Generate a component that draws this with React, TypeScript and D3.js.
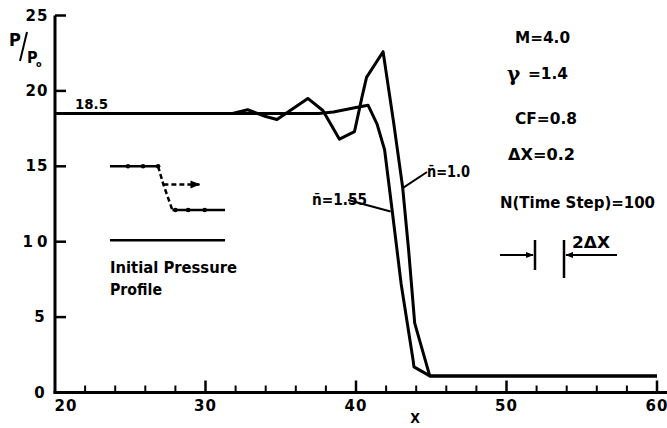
import React from "react";
import * as d3 from "d3";

// P/Po against X
const curveN10: [number, number][] = [
  [20, 18.5], [31.8, 18.5], [32.8, 18.75], [34.0, 18.3], [34.75, 18.1],
  [36.8, 19.5], [37.8, 18.7], [38.9, 16.8], [39.9, 17.3], [40.4, 19.6],
  [40.7, 20.9], [41.8, 22.6], [42.5, 17.9], [43.1, 13.6], [43.5, 9.4],
  [43.9, 4.6], [44.9, 1.1], [60, 1.1],
];
const curveN155: [number, number][] = [
  [20, 18.5], [37.5, 18.5], [38.5, 18.6], [40.0, 18.9], [40.8, 19.05],
  [41.4, 17.8], [41.9, 16.1], [42.4, 12.1], [43.0, 7.2], [43.8, 2.1],
  [43.85, 1.7], [44.9, 1.1], [60, 1.1],
];

const xTicksMajor = [20, 30, 40, 50, 60];
const xTicksMinor = d3.range(22, 60, 2).filter((v) => v % 10 !== 0);
const yTicks = [0, 5, 10, 15, 20, 25];

// initial pressure profile sketch, in data units
const profileHigh: [number, number][] = [[23.65, 15], [26.85, 15]];
const profileHighDots = [24.85, 25.85, 26.85];
const profileLow: [number, number][] = [[27.8, 12.1], [31.3, 12.1]];
const profileLowDots = [28.0, 28.85, 29.95];
const profileDash: [number, number][] = [[26.85, 15], [27.2, 13.8], [27.8, 12.1]];
const profileArrow: [number, number][] = [[27.2, 13.8], [29.6, 13.8]];
const profileBase: [number, number][] = [[23.65, 10.1], [31.3, 10.1]];

const params = [
  { text: "M=4.0", x: 515, y: 43, w: 55 },
  { text: "CF=0.8", x: 515, y: 124, w: 62 },
  { text: "ΔX=0.2", x: 508, y: 160, w: 67 },
  { text: "N(Time Step)=100", x: 500, y: 208, w: 155 },
];

const W = 667;
const H = 428;
const font = "'DejaVu Sans Condensed', 'DejaVu Sans', sans-serif";

export default function App() {
  const x = d3.scaleLinear().domain([20, 60]).range([55, 657]);
  const y = d3.scaleLinear().domain([0, 25]).range([392.5, 15.5]);
  const line = d3
    .line<[number, number]>()
    .x((d) => x(d[0]))
    .y((d) => y(d[1]));

  const stroke = "#000";

  return (
    <svg
      width={W}
      height={H}
      style={{ position: "absolute", left: 0, top: 0, background: "#fff" }}
      fontFamily={font}
      fontWeight="bold"
    >
      <defs>
        <marker id="arr" viewBox="0 0 10 10" refX="9" refY="5" markerWidth="4" markerHeight="4" orient="auto">
          <path d="M0,1 L10,5 L0,9 z" fill="#000" />
        </marker>
      </defs>

      {/* axes */}
      <line x1={x(20)} x2={x(20)} y1={y(25)} y2={y(0) + 1} stroke={stroke} strokeWidth={3} />
      <line x1={x(20) - 1.5} x2={W} y1={y(0)} y2={y(0)} stroke={stroke} strokeWidth={3} />
      {yTicks.map((t) => (
        <g key={"y" + t}>
          {t > 0 && (
            <line x1={x(20)} x2={x(20) + 11} y1={y(t)} y2={y(t)} stroke={stroke} strokeWidth={2.5} />
          )}
          <text x={t < 10 ? 40 : 37} y={y(t) + 5} textAnchor="middle" fontSize={15} letterSpacing={t === 10 ? 4 : 1}
            fontFamily="'DejaVu Sans', sans-serif">
            {t}
          </text>
        </g>
      ))}
      {xTicksMajor.slice(1).map((t) => (
        <line key={"xm" + t} x1={x(t)} x2={x(t)} y1={y(0)} y2={y(0) - 12} stroke={stroke} strokeWidth={2.5} />
      ))}
      {xTicksMinor.map((t) => (
        <line key={"xn" + t} x1={x(t)} x2={x(t)} y1={y(0)} y2={y(0) - 7} stroke={stroke} strokeWidth={2} />
      ))}
      {xTicksMajor.map((t) => (
        <text key={"xl" + t} x={t === 20 ? x(t) + 11 : x(t)} y={411} textAnchor="middle" fontSize={15}
          letterSpacing={1} fontFamily="'DejaVu Sans', sans-serif">
          {t}
        </text>
      ))}
      <text x={415} y={423} textAnchor="middle" fontSize={14}>X</text>

      {/* y label P/Po */}
      <text x={9} y={46} fontSize={18}>P</text>
      <line x1={20} y1={61} x2={27} y2={32} stroke={stroke} strokeWidth={2} />
      <text x={27} y={63} fontSize={16}>P</text>
      <text x={36} y={67} fontSize={9}>o</text>

      {/* curves */}
      <path d={line(curveN155) ?? ""} fill="none" stroke={stroke} strokeWidth={3} strokeLinejoin="round" />
      <path d={line(curveN10) ?? ""} fill="none" stroke={stroke} strokeWidth={3} strokeLinejoin="round" />

      <text x={75} y={109} fontSize={14} textLength={33} lengthAdjust="spacingAndGlyphs">18.5</text>

      {/* curve labels */}
      <text x={427} y={177} fontSize={15} textLength={43} lengthAdjust="spacingAndGlyphs">n̄=1.0</text>
      <line x1={427} y1={172} x2={x(43.1)} y2={y(13.55)} stroke={stroke} strokeWidth={2} />
      <text x={312} y={205} fontSize={15} textLength={55} lengthAdjust="spacingAndGlyphs">ñ=1.55</text>
      <line x1={348} y1={200} x2={x(42.3)} y2={y(12.0)} stroke={stroke} strokeWidth={2} />

      {/* initial pressure profile sketch */}
      <path d={line(profileHigh) ?? ""} stroke={stroke} strokeWidth={2.5} />
      <path d={line(profileLow) ?? ""} stroke={stroke} strokeWidth={2.5} />
      <path d={line(profileDash) ?? ""} fill="none" stroke={stroke} strokeWidth={2.5} strokeDasharray="5,3" />
      <path d={line(profileArrow) ?? ""} stroke={stroke} strokeWidth={2.5} strokeDasharray="5,3" markerEnd="url(#arr)" />
      <path d={line(profileBase) ?? ""} stroke={stroke} strokeWidth={2.5} />
      {profileHighDots.map((d) => (
        <circle key={"hd" + d} cx={x(d)} cy={y(15)} r={2.3} fill="#000" />
      ))}
      {profileLowDots.map((d) => (
        <circle key={"ld" + d} cx={x(d)} cy={y(12.1)} r={2.3} fill="#000" />
      ))}
      <text x={110} y={273} fontSize={16} textLength={127} lengthAdjust="spacingAndGlyphs">Initial Pressure</text>
      <text x={110} y={295} fontSize={16} textLength={52} lengthAdjust="spacingAndGlyphs">Profile</text>

      {/* parameters */}
      {params.map((p) => (
        <text key={p.text} x={p.x} y={p.y} fontSize={16} textLength={p.w} lengthAdjust="spacingAndGlyphs">
          {p.text}
        </text>
      ))}
      <text x={507} y={81} fontSize={20} fontFamily="'DejaVu Serif', serif">γ</text>
      <text x={528} y={79} fontSize={16} textLength={40} lengthAdjust="spacingAndGlyphs">=1.4</text>

      {/* 2ΔX marker */}
      <line x1={500} y1={255} x2={533} y2={255} stroke={stroke} strokeWidth={2} markerEnd="url(#arr)" />
      <line x1={535} y1={240} x2={535} y2={270} stroke={stroke} strokeWidth={2.5} />
      <line x1={564} y1={240} x2={564} y2={278} stroke={stroke} strokeWidth={2.5} />
      <line x1={617} y1={255} x2={566} y2={255} stroke={stroke} strokeWidth={2} markerEnd="url(#arr)" />
      <text x={572} y={248} fontSize={15} textLength={38} lengthAdjust="spacingAndGlyphs">2ΔX</text>
    </svg>
  );
}
